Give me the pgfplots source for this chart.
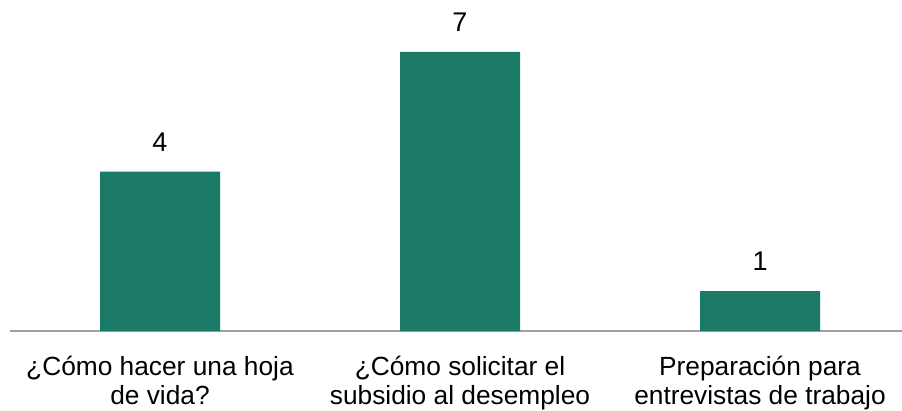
\documentclass[border=0pt]{standalone}
\usepackage{fontspec}
\setmainfont{Liberation Sans}
\usepackage{pgfplots}
\pgfplotsset{compat=1.18}
\definecolor{barc}{HTML}{1A7A66}
\definecolor{axc}{HTML}{A0A0A0}
\begin{document}
\begin{tikzpicture}
\useasboundingbox (0,0) rectangle (902pt,410pt);
\begin{axis}[
  at={(10pt,79pt)}, anchor=south west,
  scale only axis, width=900pt, height=318.9pt,
  xmin=-0.5, xmax=2.5, ymin=0, ymax=8,
  hide y axis,
  axis x line*=bottom,
  x axis line style={draw=axc, line width=1.5pt},
  xtick={0,1,2},
  xticklabels={{¿Cómo hacer una hoja\\de vida?},{¿Cómo solicitar el\\subsidio al desempleo},{Preparación para\\entrevistas de trabajo}},
  xtick style={draw=none},
  xticklabel style={align=center, font=\fontsize{26.3}{28.5}\selectfont, yshift=-22pt},
  nodes near coords,
  nodes near coords style={font=\fontsize{27}{30}\selectfont, yshift=17pt, black},
  /pgf/number format/assume math mode=true,
]
\addplot[ybar, bar width=120pt, fill=barc, draw=none] coordinates {(0,4) (1,7) (2,1)};
\end{axis}
\end{tikzpicture}
\end{document}
